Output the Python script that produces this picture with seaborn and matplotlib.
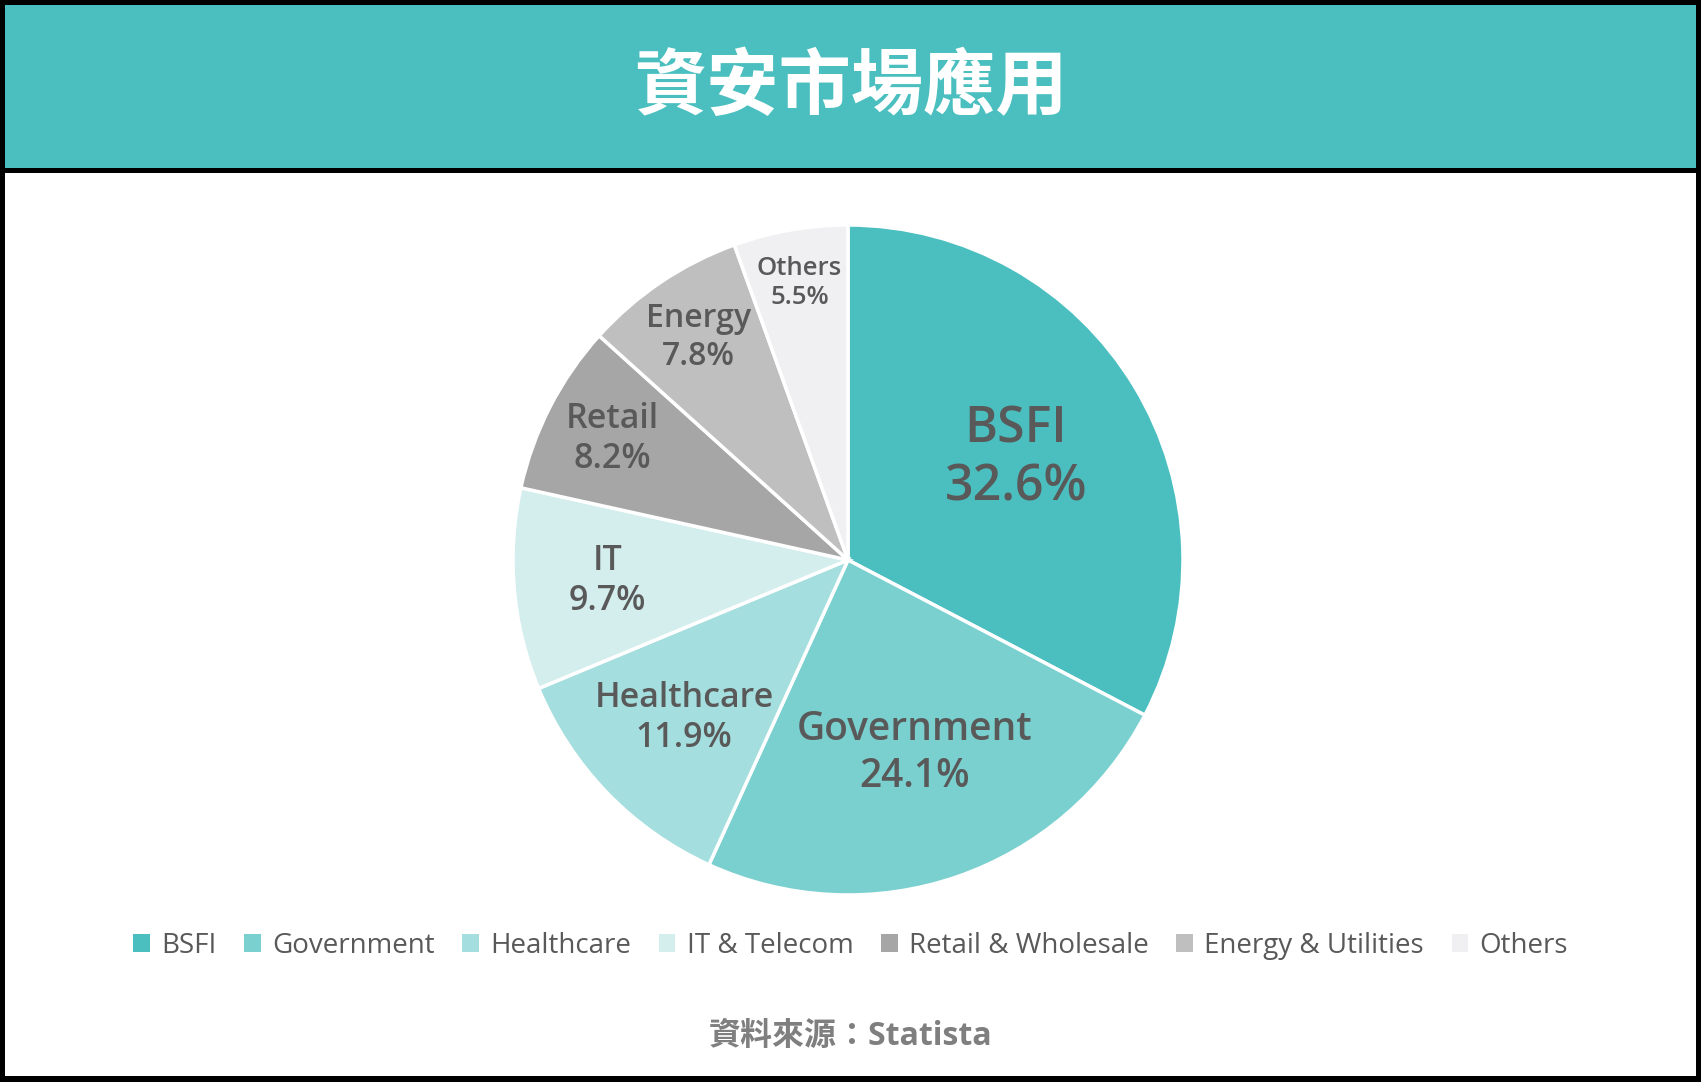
"""
資安市場應用 - pie chart of security market by application sector
"""

import numpy as np
import matplotlib.pyplot as plt
import seaborn as sns
from matplotlib.patches import Rectangle, Patch

# --- data ---
categories = ["BSFI", "Government", "Healthcare", "IT & Telecom",
              "Retail & Wholesale", "Energy & Utilities", "Others"]
short_labels = ["BSFI", "Government", "Healthcare", "IT", "Retail", "Energy", "Others"]
shares = [32.6, 24.1, 11.9, 9.7, 8.2, 7.8, 5.5]
title = "資安市場應用"
source = "資料來源：Statista"

# --- style ---
colors = ["#4BBFBF", "#7AD0CF", "#A5DEDE", "#D4EEEE", "#A6A6A6", "#BFBFBF", "#F0F0F2"]
label_radius = [0.585, 0.61, 0.68, 0.72, 0.79, 0.80, 0.84]
label_size = [36, 28, 24.5, 24.5, 24.5, 23, 18.5]
text_grey = "#595959"

sns.set_theme(style="white")
plt.rcParams['font.family'] = ['Open Sans', 'Noto Sans CJK TC', 'DejaVu Sans']

W, H = 1701, 1082
fig = plt.figure(figsize=(W / 100, H / 100), dpi=100, facecolor="black")

# white body and teal header band inside the black frame (behind the axes)
fig.patches.append(Rectangle((5 / W, 6 / H), 1 - 10 / W, 1 - 179 / H,
                             transform=fig.transFigure, facecolor="white",
                             edgecolor="none", zorder=-10))
fig.patches.append(Rectangle((5 / W, 1 - 168 / H), 1 - 10 / W, 163 / H,
                             transform=fig.transFigure, facecolor="#4BBFBF",
                             edgecolor="none", zorder=-10))
fig.text(0.5, 1 - 88 / H, title, color="white", fontsize=52, fontweight="bold",
         ha="center", va="center", family=['Noto Sans CJK TC', 'DejaVu Sans'])

# pie axes: centre (848, 560) px, radius 335 px
cx, cy, r = 848, 560, 335
ax = fig.add_axes([(cx - r) / W, 1 - (cy + r) / H, 2 * r / W, 2 * r / H])
ax.patch.set_alpha(0)
wedges, _ = ax.pie(shares, colors=colors, startangle=90, counterclock=False,
                   wedgeprops=dict(edgecolor="white", linewidth=2.5))
ax.set_xlim(-1, 1)
ax.set_ylim(-1, 1)
ax.set_aspect("equal")
ax.axis("off")

for w, name, val, rr, fs in zip(wedges, short_labels, shares, label_radius, label_size):
    mid = np.deg2rad((w.theta1 + w.theta2) / 2)
    ax.text(rr * np.cos(mid), rr * np.sin(mid), f"{name}\n{val}%",
            ha="center", va="center", fontsize=fs, color=text_grey,
            fontweight=550, linespacing=1.22)

# legend
handles = [Patch(facecolor=c, edgecolor="none") for c in colors]
fig.legend(handles, categories, loc="center", bbox_to_anchor=(0.5, 1 - 946 / H),
           ncol=len(categories), frameon=False, fontsize=20,
           handlelength=0.6, handleheight=0.6, handletextpad=0.4,
           columnspacing=1.0, labelcolor=text_grey)

fig.text(0.5, 1 - 1036 / H, source, color="#7F7F7F", fontsize=23,
         fontweight="bold", ha="center", va="center")

plt.savefig("out.png", dpi=100, facecolor=fig.get_facecolor())
